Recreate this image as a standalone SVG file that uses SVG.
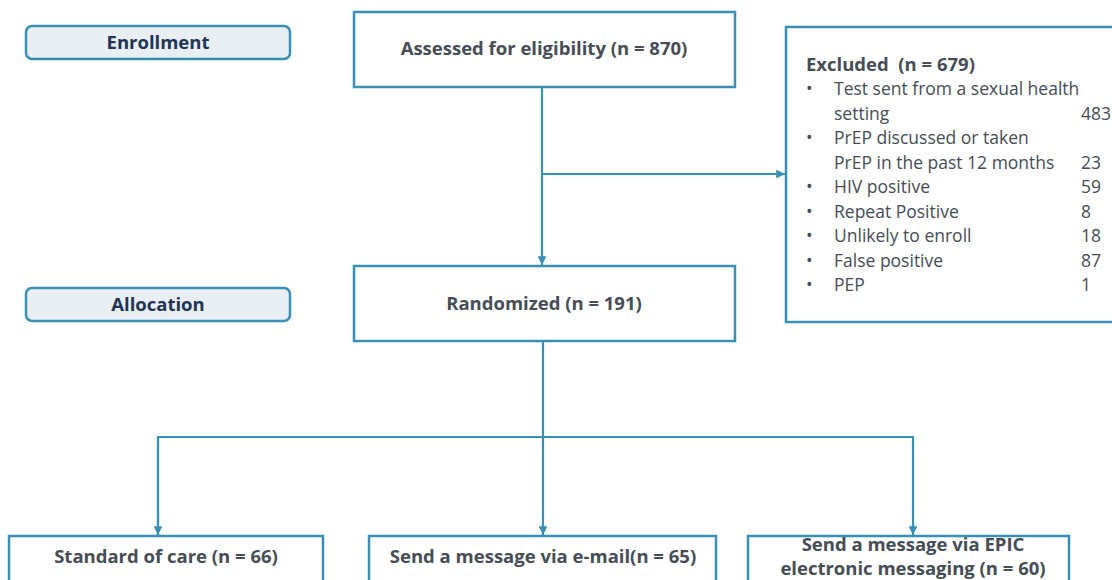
<svg xmlns="http://www.w3.org/2000/svg" width="1112" height="580" viewBox="0 0 1112 580">
<style>
.box{fill:#fff;stroke:#3a8fb5;stroke-width:2.5}
.phase{fill:#e9eef2;stroke:#3a8fb5;stroke-width:2.5}
.conn{fill:none;stroke:#3a8fb5;stroke-width:2.2}
.t{font-family:"Open Sans",sans-serif;font-weight:bold;font-size:18.5px;fill:#464d56;text-anchor:middle}
.ph{font-family:"Open Sans",sans-serif;font-weight:bold;font-size:18.5px;fill:#1f3556;text-anchor:middle}
.l{font-family:"Open Sans",sans-serif;font-size:17.5px;fill:#464d56}
</style>
<defs>
<marker id="ah" viewBox="0 0 10 10" refX="10" refY="5" markerWidth="4" markerHeight="4" orient="auto"><path d="M0,0 L10,5 L0,10 z" fill="#3a8fb5"/></marker>
</defs>
<rect width="1112" height="580" fill="#fff"/>
<g id="enrollment"><rect class="phase" x="26" y="26" width="264" height="33" rx="6"/><text class="ph" x="158" y="49">Enrollment</text></g>
<g id="allocation"><rect class="phase" x="26" y="288" width="264" height="33" rx="6"/><text class="ph" x="158" y="311">Allocation</text></g>
<g id="assessed"><rect class="box" x="354" y="12" width="381" height="75"/><text class="t" x="544" y="55">Assessed for eligibility (n = 870)</text></g>
<g id="excluded"><rect class="box" x="786" y="27" width="340" height="295"/>
<text class="l" x="806" y="71" style="font-weight:bold;font-size:18.5px">Excluded&#160; (n = 679)</text>
<g class="l">
<text x="806" y="95">•</text><text x="834" y="95">Test sent from a sexual health</text>
<text x="834" y="120">setting</text><text x="1081" y="120">483</text>
<text x="806" y="144">•</text><text x="834" y="144">PrEP discussed or taken</text>
<text x="834" y="169">PrEP in the past 12 months</text><text x="1081" y="169">23</text>
<text x="806" y="193">•</text><text x="834" y="193">HIV positive</text><text x="1081" y="193">59</text>
<text x="806" y="218">•</text><text x="834" y="218">Repeat Positive</text><text x="1081" y="218">8</text>
<text x="806" y="242">•</text><text x="834" y="242">Unlikely to enroll</text><text x="1081" y="242">18</text>
<text x="806" y="267">•</text><text x="834" y="267">False positive</text><text x="1081" y="267">87</text>
<text x="806" y="291">•</text><text x="834" y="291">PEP</text><text x="1081" y="291">1</text>
</g></g>
<g id="randomized"><rect class="box" x="354" y="266" width="381" height="75"/><text class="t" x="544" y="310">Randomized (n = 191)</text></g>
<g id="standard"><rect class="box" x="9" y="536" width="314" height="60"/><text class="t" x="166" y="563">Standard of care (n = 66)</text></g>
<g id="email"><rect class="box" x="369" y="536" width="347" height="60"/><text class="t" x="543" y="563">Send a message via e-mail(n = 65)</text></g>
<g id="epic"><rect class="box" x="748" y="536" width="321" height="60"/><text class="t" x="913" y="551">Send a message via EPIC</text><text class="t" x="913" y="575">electronic messaging (n = 60)</text></g>
<g id="connectors">
<path class="conn" d="M542,87 V265" marker-end="url(#ah)"/>
<path class="conn" d="M542,174 H785" marker-end="url(#ah)"/>
<path class="conn" d="M543,341 V535" marker-end="url(#ah)"/>
<path class="conn" d="M158,535 V437 H913 V535" marker-end="url(#ah)"/>
<path class="conn" d="M158,437 V535" marker-end="url(#ah)"/>
</g>
</svg>
